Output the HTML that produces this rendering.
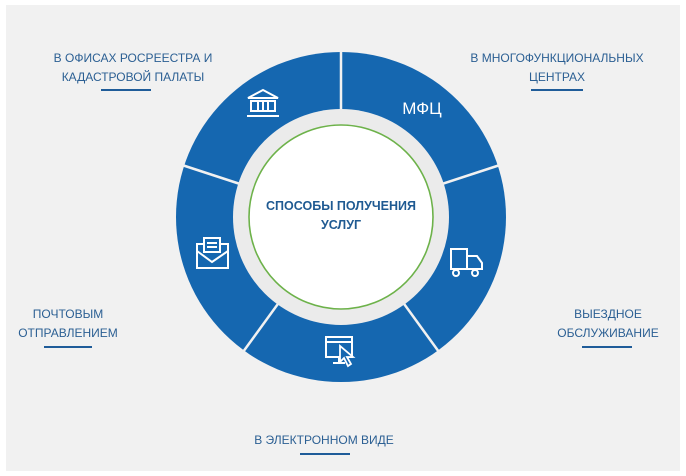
<!DOCTYPE html>
<html><head><meta charset="utf-8"><style>
html,body{margin:0;padding:0;background:#fff;width:686px;height:476px;overflow:hidden}
svg{display:block}
text{font-family:"Liberation Sans","DejaVu Sans",sans-serif}
</style></head><body>
<svg width="686" height="476" viewBox="0 0 686 476" xmlns="http://www.w3.org/2000/svg">
<rect x="6" y="5" width="674" height="466" fill="#f1f1f1"/>
<circle cx="341" cy="217" r="165" fill="#1567b0"/>
<g stroke="#f1f1f1" stroke-width="2.5">
<line x1="341" y1="217" x2="341" y2="50"/>
<line x1="341" y1="217" x2="500" y2="165"/>
<line x1="341" y1="217" x2="439" y2="352"/>
<line x1="341" y1="217" x2="243" y2="352"/>
<line x1="341" y1="217" x2="182" y2="165"/>
</g>
<circle cx="341" cy="217" r="108" fill="#ebebeb"/>
<circle cx="341" cy="217" r="92" fill="#fff" stroke="#6db24a" stroke-width="1.6"/>
<text x="341" y="210" text-anchor="middle" font-size="12.5" font-weight="bold" fill="#1f5a92">СПОСОБЫ ПОЛУЧЕНИЯ</text>
<text x="341" y="229" text-anchor="middle" font-size="12.5" font-weight="bold" fill="#1f5a92">УСЛУГ</text>
<!-- icons -->
<g fill="none" stroke="#fff" stroke-width="2">
<path d="M248 98 L263 90 L278 98 Z"/>
<rect x="251" y="101" width="24" height="10"/>
<line x1="258" y1="102" x2="258" y2="110"/><line x1="263" y1="102" x2="263" y2="110"/><line x1="268" y1="102" x2="268" y2="110"/>
<line x1="247" y1="116" x2="279" y2="116"/>
<rect x="197" y="244" width="31" height="24"/>
<path d="M197 251 L212 262 L228 251"/>
<rect x="204" y="238" width="16" height="14" fill="#1567b0"/>
<line x1="207" y1="243" x2="217" y2="243"/><line x1="207" y1="247" x2="217" y2="247"/>
<rect x="451" y="249" width="16" height="20"/>
<path d="M467 256 L477 256 L482 263 L482 269 L467 269"/>
<circle cx="456" cy="273" r="3" fill="#1567b0"/><circle cx="475" cy="273" r="3" fill="#1567b0"/>
<rect x="326" y="337" width="26" height="20"/>
<line x1="326" y1="342" x2="352" y2="342"/>
<line x1="333" y1="363" x2="345" y2="363"/><line x1="339" y1="357" x2="339" y2="363"/>
</g>
<path d="M340 346 L340 362 L344 358 L348 366 L351 364 L347 357 L353 357 Z" fill="#1567b0" stroke="#fff" stroke-width="1.8"/>
<text x="422" y="114" text-anchor="middle" font-size="17" fill="#fff">МФЦ</text>
<!-- labels -->
<g font-size="12" fill="#2b5f93" text-anchor="middle">
<text x="133" y="62">В ОФИСАХ РОСРЕЕСТРА И</text>
<text x="133" y="81">КАДАСТРОВОЙ ПАЛАТЫ</text>
<text x="557" y="62">В МНОГОФУНКЦИОНАЛЬНЫХ</text>
<text x="557" y="81">ЦЕНТРАХ</text>
<text x="68" y="318">ПОЧТОВЫМ</text>
<text x="68" y="337">ОТПРАВЛЕНИЕМ</text>
<text x="608" y="318">ВЫЕЗДНОЕ</text>
<text x="608" y="337">ОБСЛУЖИВАНИЕ</text>
<text x="324" y="444">В ЭЛЕКТРОННОМ ВИДЕ</text>
</g>
<g fill="#1f5c99">
<rect x="101" y="89" width="50" height="2"/>
<rect x="531" y="89" width="52" height="2"/>
<rect x="44" y="346" width="48" height="2"/>
<rect x="582" y="346" width="50" height="2"/>
<rect x="300" y="453" width="50" height="2"/>
</g>
</svg>
</body></html>
